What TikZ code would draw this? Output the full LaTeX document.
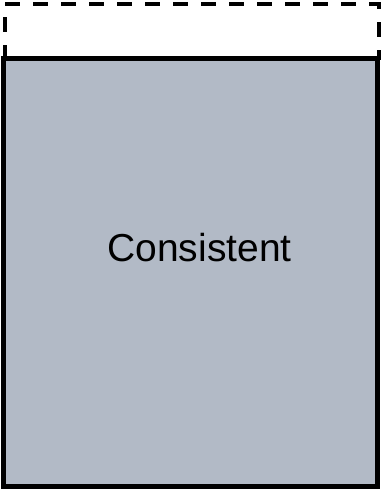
\documentclass[tikz,border=0pt]{standalone}
\usepackage{fontspec}
\setmainfont{Liberation Sans}
\definecolor{boxfill}{RGB}{178,186,198}
\begin{document}
\begin{tikzpicture}[x=1bp,y=-1bp,
  ghost/.style={draw=black,line width=3.8bp,dash pattern=on 15bp off 13bp},
  mainbox/.style={draw=black,fill=boxfill,line width=5bp},
  lbl/.style={font=\fontsize{39bp}{44bp}\selectfont,text=black}]
\useasboundingbox (0,0) rectangle (380,489);
\draw[ghost] (5,60) -- (5,4) -- (379,4) -- (379,60);
\draw[mainbox] (3.5,58.5) rectangle (377.5,486.5);
\node[lbl,anchor=base] (t) at (199.5,261) {Consistent};
\end{tikzpicture}
\end{document}
